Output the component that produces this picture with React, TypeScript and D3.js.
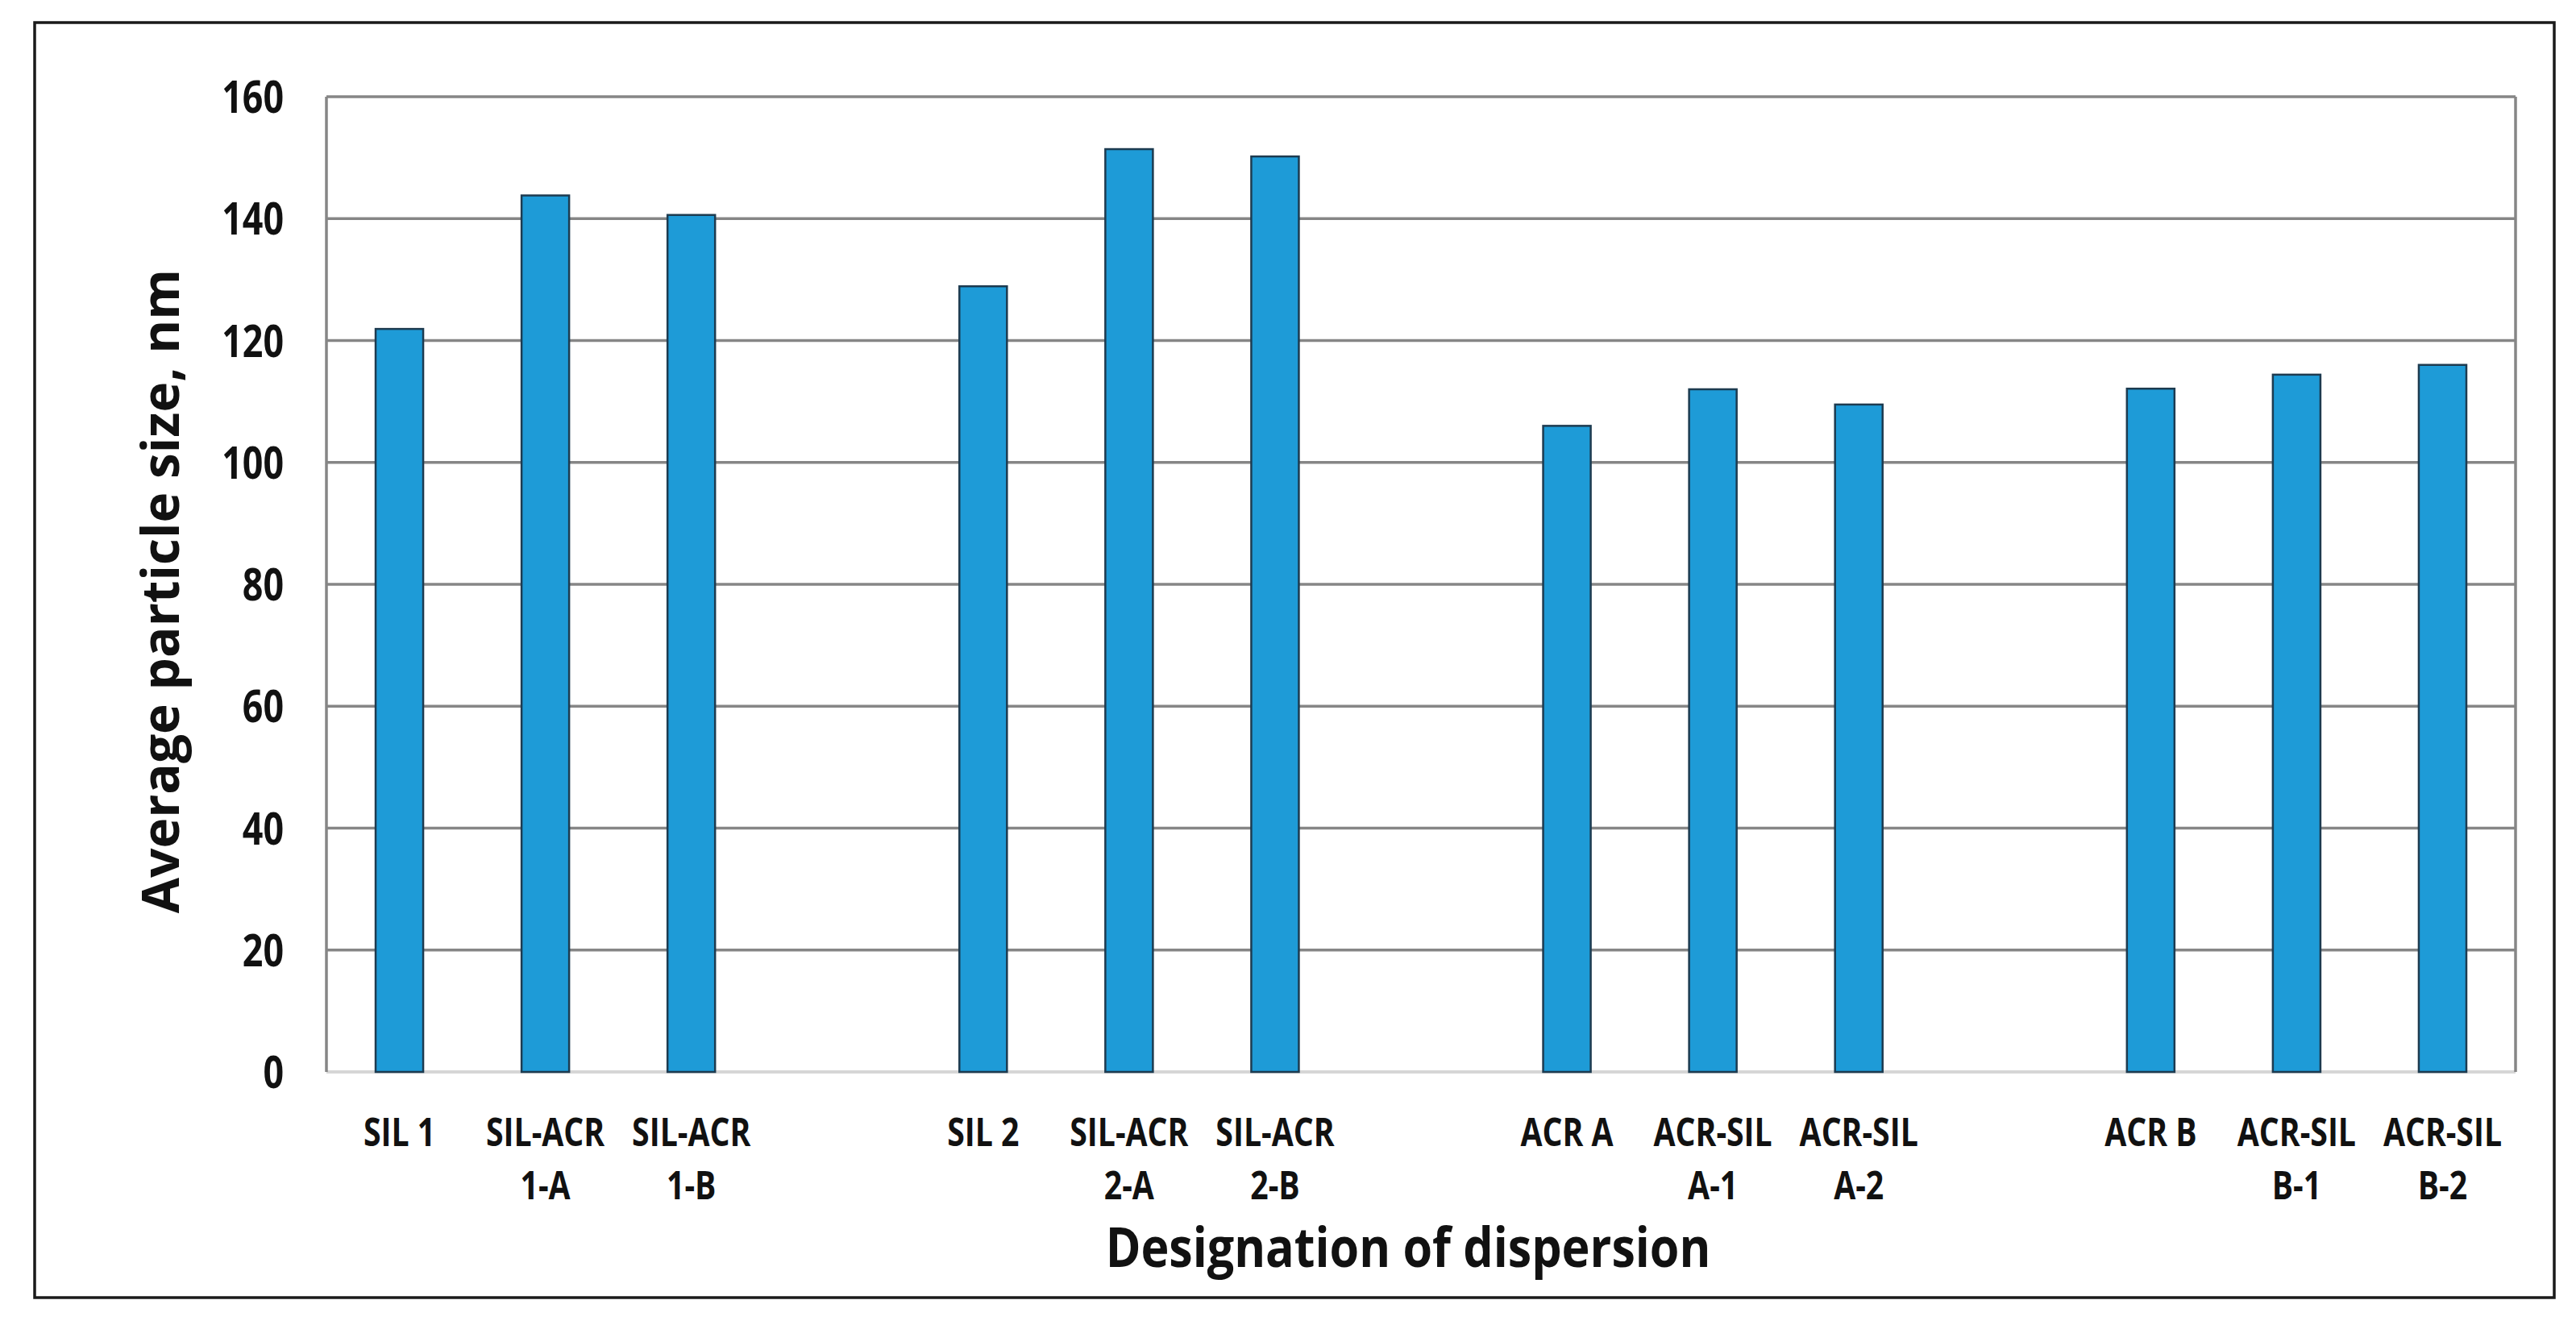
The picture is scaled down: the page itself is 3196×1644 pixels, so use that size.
import React from "react";
import * as d3 from "d3";

const categories = [
  "SIL 1", "SIL-ACR 1-A", "SIL-ACR 1-B",
  "SIL 2", "SIL-ACR 2-A", "SIL-ACR 2-B",
  "ACR A", "ACR-SIL A-1", "ACR-SIL A-2",
  "ACR B", "ACR-SIL B-1", "ACR-SIL B-2",
];
const labelLines = [
  ["SIL 1"], ["SIL-ACR", "1-A"], ["SIL-ACR", "1-B"],
  ["SIL 2"], ["SIL-ACR", "2-A"], ["SIL-ACR", "2-B"],
  ["ACR A"], ["ACR-SIL", "A-1"], ["ACR-SIL", "A-2"],
  ["ACR B"], ["ACR-SIL", "B-1"], ["ACR-SIL", "B-2"],
];
const values = [121.9, 143.8, 140.6, 128.9, 151.4, 150.2, 106.0, 112.0, 109.5, 112.1, 114.4, 116.0];
const groupSize = 3;
const yTicks = [0, 20, 40, 60, 80, 100, 120, 140, 160];
const yTitle = "Average particle size, nm";
const xTitle = "Designation of dispersion";

const W = 3196;
const H = 1644;
const plot = { left: 405, right: 3121, top: 120, bottom: 1330 };

// slot domain with an empty slot between groups
const slots: string[] = [];
categories.forEach((c, i) => {
  slots.push(c);
  if ((i + 1) % groupSize === 0 && i < categories.length - 1) slots.push(`__gap${i}`);
});

const FONT = "'Open Sans', 'DejaVu Sans', sans-serif";

export default function App() {
  const x = d3.scaleBand<string>().domain(slots).range([plot.left, plot.right]).paddingInner(0.674).paddingOuter(0.337);
  const y = d3.scaleLinear().domain([0, 160]).range([plot.bottom, plot.top]);
  const bw = x.bandwidth();

  return (
    <svg width={W} height={H} style={{ position: "absolute", left: 0, top: 0, display: "block", background: "#fff" }}>
      {/* outer frame */}
      <rect x={43} y={28} width={3169 - 43} height={1610 - 28} fill="#fff" stroke="#1a1a1a" strokeWidth={3.5} />

      {/* gridlines */}
      {yTicks.filter((t) => t > 0).map((t) => (
        <line key={t} x1={plot.left} x2={plot.right} y1={y(t)} y2={y(t)} stroke="#868686" strokeWidth={3.5} />
      ))}
      {/* baseline */}
      <line x1={plot.left} x2={plot.right} y1={y(0)} y2={y(0)} stroke="#d6d6d6" strokeWidth={4} />
      {/* left axis and right border */}
      <line x1={plot.left} x2={plot.left} y1={plot.top} y2={plot.bottom} stroke="#868686" strokeWidth={3.5} />
      <line x1={plot.right} x2={plot.right} y1={plot.top} y2={plot.bottom} stroke="#868686" strokeWidth={3.5} />

      {/* bars */}
      {categories.map((c, i) => (
        <rect
          key={c}
          x={x(c)!}
          y={y(values[i])}
          width={bw}
          height={y(0) - y(values[i])}
          fill="#1e9bd7"
          stroke="#1d3b50"
          strokeWidth={2.5}
        />
      ))}

      {/* y tick labels */}
      {yTicks.map((t) => (
        <text
          key={t}
          transform={`translate(352,${y(t) + 20}) scale(0.8,1)`}
          textAnchor="end"
          fontFamily={FONT}
          fontWeight={700}
          fontSize={56}
          fill="#111"
        >
          {t}
        </text>
      ))}

      {/* x tick labels */}
      {categories.map((c, i) => {
        const cx = x(c)! + bw / 2;
        return labelLines[i].map((ln, j) => (
          <text
            key={c + j}
            transform={`translate(${cx},${1422 + j * 66}) scale(0.8,1)`}
            textAnchor="middle"
            fontFamily={FONT}
            fontWeight={700}
            fontSize={49}
            fill="#111"
          >
            {ln}
          </text>
        ));
      })}

      {/* axis titles */}
      <text
        transform={`translate(${(plot.left + plot.right) / 2 - 16},1572) scale(0.87,1)`}
        textAnchor="middle"
        fontFamily={FONT}
        fontWeight={700}
        fontSize={68}
        fill="#111"
      >
        {xTitle}
      </text>
      <text
        transform={`translate(222,${(326 + 1141) / 2}) rotate(-90)`}
        textAnchor="middle"
        fontFamily={FONT}
        fontWeight={700}
        fontSize={64}
        fill="#111"
      >
        {yTitle}
      </text>
    </svg>
  );
}
